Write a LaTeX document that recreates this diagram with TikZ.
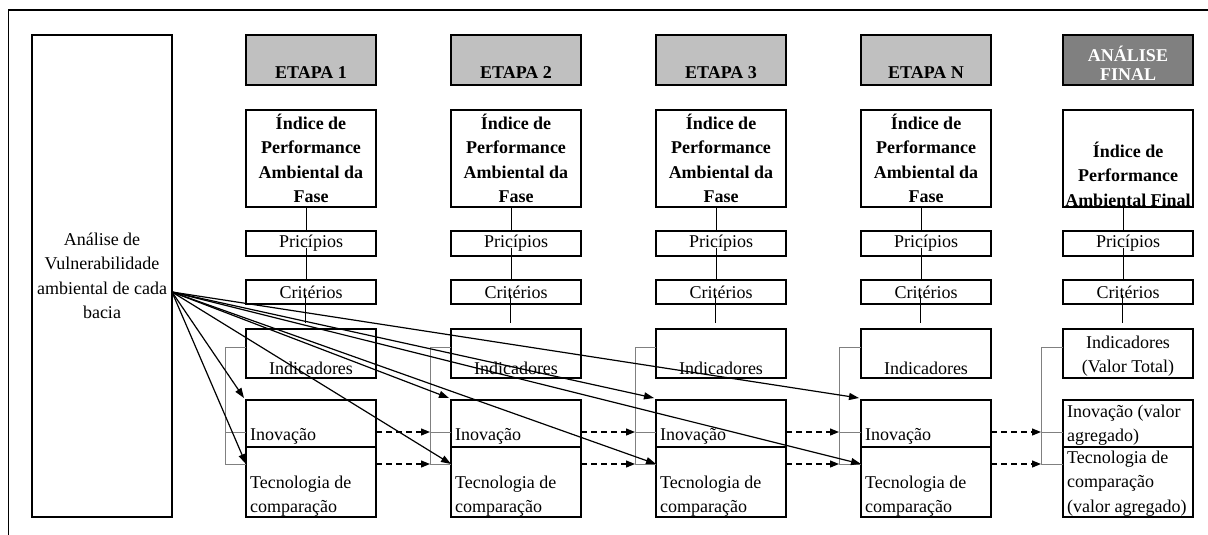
\documentclass[tikz,border=0pt]{standalone}
\usepackage{fontspec}
\setmainfont{Liberation Serif}
\usetikzlibrary{arrows.meta}
\definecolor{stagegray}{RGB}{192,192,192}
\definecolor{finalgray}{RGB}{128,128,128}
\definecolor{linkgray}{RGB}{128,128,128}

\begin{document}
\begin{tikzpicture}[x=1pt,y=-1pt,
  box/.style={draw, line width=1.7pt, outer sep=0pt, inner sep=0pt,
              anchor=north west, minimum width=130pt},
  lbl/.style={font=\fontsize{18}{24.5}\selectfont, inner sep=0pt, align=center},
  boldlbl/.style={font=\fontsize{18}{24.5}\selectfont\bfseries, inner sep=0pt, align=center},
  link/.style={line width=0.9pt},
  bracket/.style={draw=linkgray, line width=1pt},
  feed/.style={line width=1.2pt, -{Triangle[length=10pt,width=7pt]}},
  carry/.style={line width=1.2pt, dash pattern=on 6pt off 4pt,
                -{Triangle[length=9pt,width=7pt]}},
]
\useasboundingbox (0,0) rectangle (1208,535);

% outer frame (top and left edges)
\draw[line width=1.8pt] (8.5,535) -- (8.5,10) -- (1208,10);

% vulnerability analysis box
\node[box, lbl, minimum width=140pt, minimum height=482pt] (vul) at (32,35)
  {Análise de\\Vulnerabilidade\\ambiental de cada\\bacia};
\coordinate (src) at ([yshift=-16pt]vul.east);

% stage columns
\foreach \k/\L/\name in {1/246/ETAPA 1, 2/451/ETAPA 2, 3/656/ETAPA 3, 4/861/ETAPA N} {
  \node[box, fill=stagegray, minimum height=50pt] (hdr\k) at (\L,35) {};
  \node[boldlbl] (hdrt\k) at (\L+65,73) {\name};
  \node[box, boldlbl, minimum height=97pt] (idx\k) at (\L,110)
    {Índice de\\Performance\\Ambiental da\\Fase};
  \node[box, lbl, minimum height=25pt] (pri\k) at (\L,231) {Pricípios};
  \node[box, lbl, minimum height=24pt] (cri\k) at (\L,280) {Critérios};
  \node[box, minimum height=49pt] (ind\k) at (\L,329) {};
  \node[lbl] (indt\k) at (\L+65,368) {Indicadores};
  \node[box, minimum height=47pt] (ino\k) at (\L,400) {};
  \node[lbl, anchor=west] (inot\k) at (\L+4,436) {Inovação};
  \node[box, minimum height=70pt] (tec\k) at (\L,447) {};
  \node[lbl, align=left, anchor=west] (tect\k) at (\L+4,496) {Tecnologia de\\comparação};
}

% final analysis column
\node[box, fill=finalgray, minimum height=50pt] (hdr5) at (1063,35) {};
\node[boldlbl, text=white, font=\fontsize{18}{19.5}\selectfont\bfseries] (hdrt5) at (1128,63.5)
  {ANÁLISE\\FINAL};
\node[box, minimum height=97pt] (idx5) at (1063,110) {};
\node[boldlbl] (idxt5) at (1128,174) {Índice de\\Performance\\Ambiental Final};
\node[box, lbl, minimum height=25pt] (pri5) at (1063,231) {Pricípios};
\node[box, lbl, minimum height=24pt] (cri5) at (1063,280) {Critérios};
\node[box, minimum height=49pt] (ind5) at (1063,329) {};
\node[lbl] (indt5) at (1128,356) {Indicadores\\(Valor Total)};
\node[box, minimum height=47pt] (ino5) at (1063,400) {};
\node[lbl, align=left, anchor=west] (inot5) at (1067,425) {Inovação (valor\\agregado)};
\node[box, minimum height=70pt] (tec5) at (1063,447) {};
\node[lbl, align=left, anchor=west] (tect5) at (1067,483.5)
  {Tecnologia de\\comparação\\(valor agregado)};

% vertical links and side brackets of every column
\foreach \k/\B in {1/225, 2/430, 3/635, 4/839, 5/1041} {
  \draw[link] ([xshift=-5pt]idx\k.south) -- ([xshift=-5pt]pri\k.north);
  \draw[link] ([xshift=-5pt,yshift=-4pt]pri\k.center) -- ([xshift=-5pt]cri\k.north);
  \draw[link] ([xshift=-6pt,yshift=-3pt]cri\k.center) -- ([xshift=-6pt,yshift=6pt]ind\k.north);
  \coordinate (bt\k) at (\B,347);
  \coordinate (bi\k) at (\B,432);
  \coordinate (bc\k) at (\B,464);
  \draw[bracket] (ind\k.west |- bt\k) -- (bt\k) -- (bc\k) -- (tec\k.west |- bc\k);
  \draw[bracket] (bi\k) -- (ino\k.west |- bi\k);
}

% values carried from one stage to the next
\foreach \k/\j in {1/2, 2/3, 3/4, 4/5} {
  \draw[carry] (ino\k.east |- bi\j) -- (bi\j);
  \draw[carry] (tec\k.east |- bc\j) -- (bc\j);
}

% vulnerability analysis feeding every stage
\foreach \k in {1,2,3,4} {
  \draw[feed] (src) -- ([shift={(-2pt,2pt)}]ino\k.north west);
  \draw[feed] (src) -- (tec\k.west |- bc\k);
}
\end{tikzpicture}
\end{document}
